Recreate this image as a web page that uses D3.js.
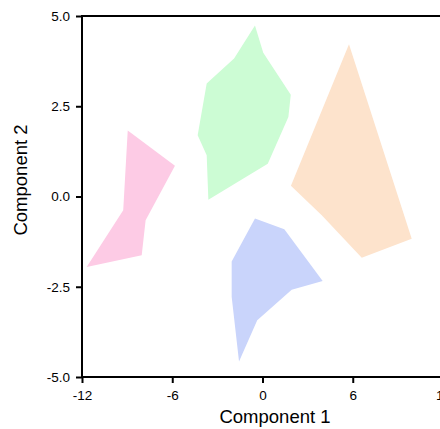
<!DOCTYPE html>
<html>
  <head>
    <meta charset="utf-8" />
    <title>Clusters</title>
    <script src="https://d3js.org/d3.v7.min.js"></script>
    <style>
      body { margin: 0; background: white; }
      svg { display: block; font-family: "Liberation Sans", Arial, sans-serif; }
    </style>
  </head>
  <body>
    <svg id="chart" width="440" height="429"></svg>
  </body>
  <script>
    // hull outlines of the four clusters, [component 1, component 2]
    var pinkHull = [[-8.96, 1.83], [-5.82, 0.85], [-7.77, -0.66], [-8.03, -1.63], [-11.69, -1.95], [-9.26, -0.38]];
    var greenHull = [[-0.50, 4.74], [0.05, 3.98], [1.88, 2.82], [1.72, 2.20], [0.35, 0.91], [-3.60, -0.09],
                     [-3.71, 1.14], [-4.31, 1.70], [-3.71, 3.13], [-1.89, 3.82]];
    var orangeHull = [[5.75, 4.22], [9.92, -1.17], [6.60, -1.70], [3.94, -0.52], [1.89, 0.30]];
    var blueHull = [[-0.50, -0.61], [1.45, -0.91], [4.00, -2.34], [1.94, -2.58], [-0.35, -3.43],
                    [-1.56, -4.57], [-2.05, -2.78], [-2.05, -1.80]];

    var hulls = [pinkHull, greenHull, orangeHull, blueHull];
    var hullColors = ["#fdcbe5", "#ccfcd4", "#fde3cc", "#c9d4fb"];

    var xTicks = [-12, -6, 0, 6, 12];
    var yTicks = [-5, -2.5, 0, 2.5, 5];

    var svg = d3.select("#chart");
    // plot box (note: "top" is reserved on window, so use plot* names)
    var plotLeft = 82, plotRight = 443, plotTop = 16, plotBottom = 377;

    var x = d3.scaleLinear().domain([-12, 12]).range([plotLeft, plotRight]);
    var y = d3.scaleLinear().domain([-5, 5]).range([plotBottom, plotTop]);

    // plain hyphen for negatives, like the original
    var locale = d3.formatLocale({ decimal: ".", thousands: ",", grouping: [3], currency: ["$", ""], minus: "-" });

    var line = d3.line()
      .x(function(d){ return x(d[0]); })
      .y(function(d){ return y(d[1]); })
      .curve(d3.curveLinearClosed);

    svg.selectAll(".hull")
      .data(hulls)
      .enter().append("path")
      .attr("class", "hull")
      .attr("d", line)
      .attr("fill", function(d, i){ return hullColors[i]; })
      .attr("stroke", "none");

    // frame
    svg.append("rect")
      .attr("x", plotLeft)
      .attr("y", plotTop)
      .attr("width", plotRight - plotLeft)
      .attr("height", plotBottom - plotTop)
      .attr("fill", "none")
      .attr("stroke", "black")
      .attr("stroke-width", 2);

    var xAxis = svg.append("g")
      .attr("transform", "translate(0," + plotBottom + ")")
      .call(d3.axisBottom(x).tickValues(xTicks).tickSize(6).tickPadding(7).tickFormat(locale.format("d")));
    var yAxis = svg.append("g")
      .attr("transform", "translate(" + plotLeft + ",0)")
      .call(d3.axisLeft(y).tickValues(yTicks).tickSize(6).tickPadding(6).tickFormat(locale.format(".1f")));

    [xAxis, yAxis].forEach(function(a){
      a.select(".domain").remove();
      a.selectAll(".tick line").attr("stroke", "black").attr("stroke-width", 2);
      a.selectAll(".tick text")
        .attr("fill", "black")
        .style("font-size", "13.5px")
        .style("font-family", "Liberation Sans, Arial, sans-serif");
    });

    svg.append("text")
      .attr("x", 275)
      .attr("y", 423)
      .attr("text-anchor", "middle")
      .style("font-size", "18.5px")
      .text("Component 1");

    svg.append("text")
      .attr("transform", "translate(26.5,180) rotate(-90)")
      .attr("text-anchor", "middle")
      .style("font-size", "18.5px")
      .text("Component 2");
  </script>
</html>
